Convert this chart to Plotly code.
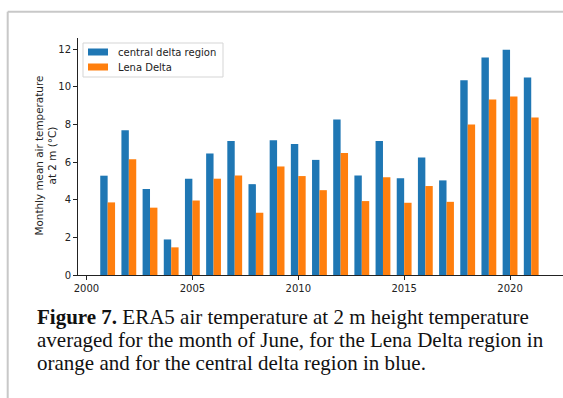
import plotly.graph_objects as go

years = list(range(2001, 2022))
central_delta = [5.28, 7.70, 4.57, 1.89, 5.12, 6.46, 7.12, 4.83, 7.17, 6.96, 6.12,
                 8.27, 5.29, 7.12, 5.15, 6.25, 5.03, 10.36, 11.56, 11.97, 10.50]
lena_delta = [3.86, 6.16, 3.58, 1.47, 3.96, 5.12, 5.29, 3.31, 5.77, 5.26, 4.51,
              6.48, 3.93, 5.20, 3.84, 4.73, 3.89, 8.00, 9.33, 9.49, 8.37]
series_names = ["central delta region", "Lena Delta"]
series_colors = ["#1f77b4", "#ff7f0e"]
x_ticks = [2000, 2005, 2010, 2015, 2020]
y_ticks = [0, 2, 4, 6, 8, 10, 12]

W, H = 563, 398
L, R, T, B = 78, 563, 38, 275  # plot area pixels

def px(x):
    return x / W

def py(y):
    return 1 - y / H

fig = go.Figure()
for vals, name, col in zip([central_delta, lena_delta], series_names, series_colors):
    fig.add_trace(go.Bar(x=years, y=vals, name=name, showlegend=False,
                         marker=dict(color=col, line=dict(width=0))))

tickfont = dict(family="DejaVu Sans", size=10, color="#222")
fig.update_layout(
    width=W, height=H,
    margin=dict(l=0, r=0, t=0, b=0, autoexpand=False),
    paper_bgcolor="white", plot_bgcolor="white",
    barmode="group", bargap=0.3, bargroupgap=0,
    showlegend=False,
    xaxis=dict(domain=[px(L), px(R)], range=[1999.6, 2022.5],
               tickmode="array", tickvals=x_ticks, ticktext=[str(v) for v in x_ticks],
               ticks="outside", ticklen=4, tickwidth=1, tickcolor="#222",
               showline=True, linecolor="#222", linewidth=1, showgrid=False,
               zeroline=False, tickfont=tickfont),
    yaxis=dict(domain=[py(B), py(T)], range=[0, 12.6],
               tickmode="array", tickvals=y_ticks, ticktext=[str(v) for v in y_ticks],
               ticks="outside", ticklen=4, tickwidth=1, tickcolor="#222",
               showline=True, linecolor="#222", linewidth=1, showgrid=False,
               zeroline=False, tickfont=tickfont),
)

# legend (matplotlib style)
fig.add_shape(type="rect", xref="paper", yref="paper", x0=px(83), x1=px(223),
              y0=py(77), y1=py(43), line=dict(color="#d5d5d5", width=1),
              fillcolor="rgba(255,255,255,0.8)")
for i, (name, col) in enumerate(zip(series_names, series_colors)):
    yc = 52 + i * 15
    fig.add_shape(type="rect", xref="paper", yref="paper", x0=px(88), x1=px(108),
                  y0=py(yc + 3.5), y1=py(yc - 3.5), line=dict(width=0), fillcolor=col)
    fig.add_annotation(text=name, xref="paper", yref="paper", x=px(116), y=py(yc),
                       xanchor="left", yanchor="middle", showarrow=False,
                       font=dict(family="DejaVu Sans", size=10, color="#222"))

# y-axis title (two lines)
fig.add_annotation(text="Monthly mean air temperature<br>at 2 m (°C)",
                   xref="paper", yref="paper", x=px(45.5), y=py(156),
                   xanchor="center", yanchor="middle", textangle=-90, showarrow=False,
                   font=dict(family="DejaVu Sans", size=10.4, color="#222"))

# caption lines
caption = [
    "<b>Figure 7.</b> ERA5 air temperature at 2 m height temperature",
    "averaged for the month of June, for the Lena Delta region in",
    "orange and for the central delta region in blue.",
]
for i, line in enumerate(caption):
    fig.add_annotation(text=line, xref="paper", yref="paper",
                       x=px(35), y=py(317 + i * 23.2), xanchor="left", yanchor="middle",
                       align="left", showarrow=False,
                       font=dict(family="Liberation Serif", size=21, color="#111"))

# page frame lines
fig.add_shape(type="line", xref="paper", yref="paper", x0=px(7.7), x1=1.0,
              y0=py(11.7), y1=py(11.7), line=dict(color="#c8c8c8", width=2))
fig.add_shape(type="line", xref="paper", yref="paper", x0=px(7.7), x1=px(7.7),
              y0=py(11.7), y1=0, line=dict(color="#c8c8c8", width=2))

fig.write_html("out.html", config={"displayModeBar": False},
               post_script="document.body.style.margin='0';document.body.style.overflow='hidden';")
